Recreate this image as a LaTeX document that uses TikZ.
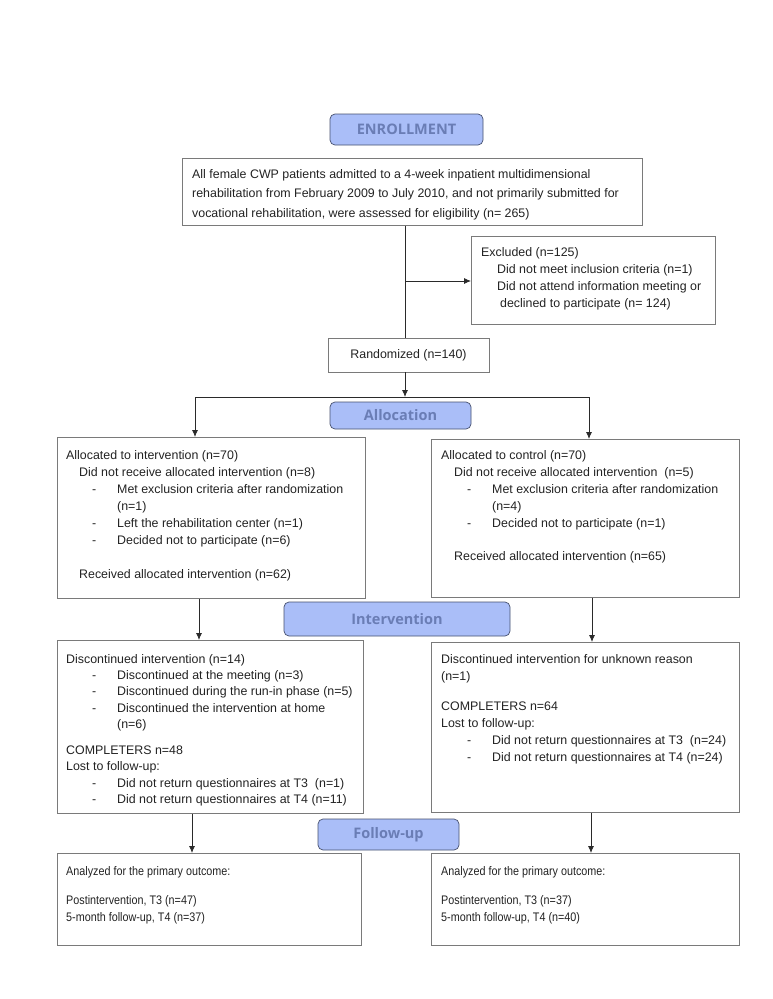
\documentclass[tikz,border=0pt]{standalone}
\usepackage{fontspec}
\setmainfont{Liberation Sans}
\newfontfamily\headfont{Open Sans}
\newfontfamily\narrowfont[FakeStretch=0.87]{Liberation Sans}
\usetikzlibrary{arrows.meta,calc}
\definecolor{hdrfill}{HTML}{AABEF8}
\definecolor{hdrdraw}{HTML}{46506E}
\definecolor{hdrtext}{HTML}{6A7DB5}
\definecolor{boxdraw}{HTML}{7A7A7A}
\definecolor{linec}{HTML}{2A2A2A}
\definecolor{txtc}{HTML}{222222}
\newcommand\ind{\hspace*{13pt}}
\newcommand\ditem[1]{\hspace*{26pt}\makebox[25pt][l]{-}#1}
\newcommand\wrapind{\hspace*{51pt}}
\begin{document}
\begin{tikzpicture}[x=1pt,y=-1pt,
  box/.style={draw=boxdraw, line width=0.8pt, anchor=north west, inner sep=0pt},
  hdr/.style={draw=hdrdraw, fill=hdrfill, rounded corners=5pt, line width=0.7pt,
    text=hdrtext, font=\headfont\bfseries\fontsize{14.5}{16}\selectfont, inner sep=0pt},
  txt/.style={anchor=north west, align=left, inner sep=0pt, text=txtc,
    font=\fontsize{12.4}{17}\selectfont},
  arr/.style={draw=linec, line width=0.8pt, -{Latex[length=7pt,width=6pt]}},
  ln/.style={draw=linec, line width=0.8pt}]
\useasboundingbox (0,0) rectangle (772,999);

% headers
\node[hdr, minimum width=153pt, minimum height=31pt] (enroll) at (406.5,129.5) {ENROLLMENT};
\node[hdr, minimum width=141pt, minimum height=27pt] (alloc) at (400.5,415.5) {Allocation};
\node[hdr, minimum width=226pt, minimum height=34pt] (interv) at (397,619) {Intervention};
\node[hdr, minimum width=141pt, minimum height=31pt] (follow) at (388.5,834.5) {Follow-up};

% boxes
\node[box, minimum width=460pt, minimum height=67pt] (top) at (182,158) {};
\node[box, minimum width=244pt, minimum height=88pt] (excl) at (471,236) {};
\node[box, minimum width=161pt, minimum height=34pt, anchor=center, text=txtc,
  font=\fontsize{12.4}{17}\selectfont] (rand) at (408.5,355) {Randomized (n=140)};
\node[box, minimum width=308pt, minimum height=161pt] (lalloc) at (57,437) {};
\node[box, minimum width=308pt, minimum height=158pt] (ralloc) at (431,439) {};
\node[box, minimum width=306pt, minimum height=173pt] (ldisc) at (57,640) {};
\node[box, minimum width=308pt, minimum height=170pt] (rdisc) at (431,642) {};
\node[box, minimum width=304pt, minimum height=92pt] (lfin) at (57,853) {};
\node[box, minimum width=308pt, minimum height=92pt] (rfin) at (431,853) {};

% texts
\node[txt, font=\fontsize{12.4}{19.5}\selectfont] (toptxt) at (192,169) {All female CWP patients admitted to a 4-week inpatient multidimensional\\
rehabilitation from February 2009 to July 2010, and not primarily submitted for\\
vocational rehabilitation, were assessed for eligibility (n= 265)};

\node[txt] (excltxt) at (481,247) {Excluded (n=125)\\
\hspace*{16pt}Did not meet inclusion criteria (n=1)\\
\hspace*{16pt}Did not attend information meeting or\\
\hspace*{19pt}declined to participate (n= 124)};

\node[txt] (lalloctxt) at (66,450) {Allocated to intervention (n=70)\\
\ind Did not receive allocated intervention (n=8)\\
\ditem{Met exclusion criteria after randomization}\\
\wrapind (n=1)\\
\ditem{Left the rehabilitation center (n=1)}\\
\ditem{Decided not to participate (n=6)}\\[17pt]
\ind Received allocated intervention (n=62)};

\node[txt] (ralloctxt) at (441,450) {Allocated to control (n=70)\\
\ind Did not receive allocated intervention \ (n=5)\\
\ditem{Met exclusion criteria after randomization}\\
\wrapind (n=4)\\
\ditem{Decided not to participate (n=1)}\\[16pt]
\ind Received allocated intervention (n=65)};

\node[txt, font=\fontsize{12.4}{16.3}\selectfont] (ldisctxt) at (66,654) {Discontinued intervention (n=14)\\
\ditem{Discontinued at the meeting (n=3)}\\
\ditem{Discontinued during the run-in phase (n=5)}\\
\ditem{Discontinued the intervention at home}\\
\wrapind (n=6)\\[10pt]
COMPLETERS n=48\\
Lost to follow-up:\\
\ditem{Did not return questionnaires at T3 \ (n=1)}\\
\ditem{Did not return questionnaires at T4 (n=11)}};

\node[txt] (rdisctxt) at (441,654) {Discontinued intervention for unknown reason\\
(n=1)\\[13pt]
COMPLETERS n=64\\
Lost to follow-up:\\
\ditem{Did not return questionnaires at T3 \ (n=24)}\\
\ditem{Did not return questionnaires at T4 (n=24)}};

\node[txt, font=\narrowfont\fontsize{12.4}{17}\selectfont] (lfintxt) at (66,866) {Analyzed for the primary outcome:\\[12pt]
Postintervention, T3 (n=47)\\
5-month follow-up, T4 (n=37)};

\node[txt, font=\narrowfont\fontsize{12.4}{17}\selectfont] (rfintxt) at (441,866) {Analyzed for the primary outcome:\\[12pt]
Postintervention, T3 (n=37)\\
5-month follow-up, T4 (n=40)};

% connectors
\coordinate (topout) at (top.south -| 405,0);
\coordinate (randin) at (rand.north -| 405,0);
\coordinate (branch) at (405,281);
\coordinate (split) at (405,397);
\coordinate (splitL) at (195,397);
\coordinate (splitR) at (589,397);
\draw[ln] (topout) -- (randin);
\draw[arr] (branch) -- (branch -| excl.west);
\draw[arr] (rand.south -| 405,0) -- (split);
\draw[ln] (splitL) -- (splitR);
\draw[arr] (splitL) -- (splitL |- lalloc.north);
\draw[arr] (splitR) -- (splitR |- ralloc.north);
\draw[arr] (lalloc.south -| 199,0) -- (ldisc.north -| 199,0);
\draw[arr] (ralloc.south -| 592,0) -- (rdisc.north -| 592,0);
\draw[arr] (ldisc.south -| 192,0) -- (lfin.north -| 192,0);
\draw[arr] (rdisc.south -| 591,0) -- (rfin.north -| 591,0);
\end{tikzpicture}
\end{document}
